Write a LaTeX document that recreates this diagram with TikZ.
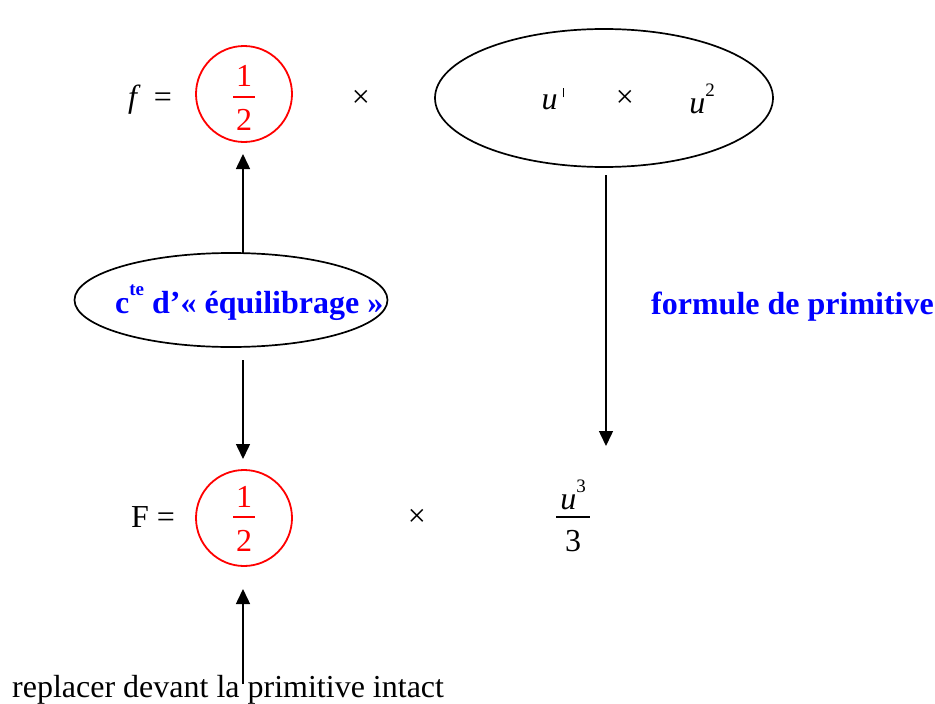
\documentclass[tikz,border=0pt]{standalone}
\usepackage{fontspec}
\setmainfont{Liberation Serif}
\usetikzlibrary{arrows.meta,shapes.geometric}
\begin{document}
\begin{tikzpicture}[x=1pt,y=-1pt,
  txt/.style={font=\fontsize{32}{34}\selectfont, inner sep=0pt},
  btxt/.style={font=\fontsize{32}{34}\selectfont\bfseries, text=blue, inner sep=0pt},
  redc/.style={draw=red, circle, minimum size=96pt, line width=1.8pt, inner sep=0pt},
  oval/.style={draw=black, ellipse, line width=1.7pt, inner sep=0pt},
  fracbar/.style={line width=1.3pt},
  arr/.style={-{Triangle[length=15pt,width=14pt]}, line width=1.5pt}]
\useasboundingbox (0,0) rectangle (935,704);
\newcommand{\supr}[1]{\raisebox{0.55em}{\fontsize{19}{20}\selectfont #1}}

% top line
\node[txt] (f) at (150,100) {\textit{f}\, =};
\node[redc] (c1) at (244,94) {};
\node[txt, text=red] (n1) at (244,76) {1};
\node[txt, text=red] (d1) at (244,120) {2};
\draw[fracbar, red] (233,97) -- (255,97);
\node[txt] (x1) at (361,99) {×};
\node[oval, minimum width=338pt, minimum height=138pt] (E) at (604,98) {};
\node[txt] (up) at (553,99) {\textit{u}\hspace{5pt}\raisebox{12pt}{\rule{1.6pt}{9pt}}};
\node[txt] (x2) at (625,99) {×};
\node[txt] (u2) at (702,99) {\textit{u}\supr{2}};

% middle
\node[oval, minimum width=313pt, minimum height=94pt] (cte) at (231,300) {};
\node[btxt, anchor=base west] (ctet) at (115,313) {c\supr{te} d’« équilibrage »};
\node[btxt, anchor=base west] (form) at (651,314) {formule de primitive};

% bottom line
\node[txt] (F) at (153,517) {F =};
\node[redc] (c2) at (244,518) {};
\node[txt, text=red] (n2) at (244,497) {1};
\node[txt, text=red] (d2) at (244,541) {2};
\draw[fracbar, red] (233,517) -- (255,517);
\node[txt] (x3) at (417,518) {×};
\node[txt] (u3) at (573,495) {\textit{u}\supr{3}};
\node[txt] (t3) at (573,541) {3};
\draw[fracbar] (556,517) -- (590,517);

\node[txt, anchor=base west] (rep) at (12,697) {replacer devant la primitive intact};

% arrows
\coordinate (a1s) at (243,253);
\coordinate (a1e) at (243,154);
\coordinate (a2s) at (243,360);
\coordinate (a2e) at (243,459);
\coordinate (a3s) at (606,175);
\coordinate (a3e) at (606,446);
\coordinate (a4s) at (243,684);
\coordinate (a4e) at (243,589);
\draw[arr] (a1s) -- (a1e);
\draw[arr] (a2s) -- (a2e);
\draw[arr] (a3s) -- (a3e);
\draw[arr] (a4s) -- (a4e);
\end{tikzpicture}
\end{document}
